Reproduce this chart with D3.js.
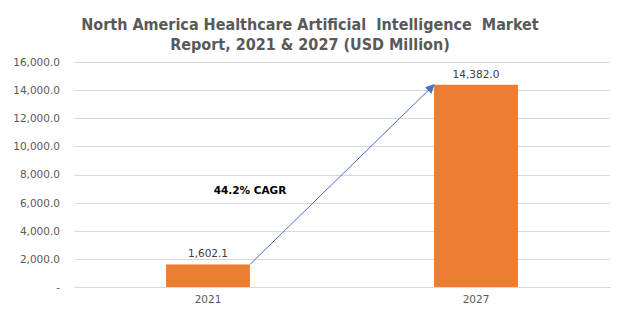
<!DOCTYPE html>
<html><head><meta charset="utf-8">
<script src="https://cdn.jsdelivr.net/npm/d3@7"></script>
<style>body{margin:0;background:#fff;} svg{display:block;}</style>
</head><body>
<script>
const categories = ["2021", "2027"];
const values = [1602.1, 14382.0];
const valueLabels = ["1,602.1", "14,382.0"];
const tickValues = [0, 2000, 4000, 6000, 8000, 10000, 12000, 14000, 16000];
const tickLabels = ["-", "2,000.0", "4,000.0", "6,000.0", "8,000.0", "10,000.0", "12,000.0", "14,000.0", "16,000.0"];
const titleLines = ["North America Healthcare Artificial  Intelligence  Market", "Report, 2021 & 2027 (USD Million)"];
const cagrText = "44.2% CAGR";

(function () {
const W = 624, H = 324;
const pLeft = 74, pRight = 610, pTop = 62, pBottom = 287;

const svg = d3.select("body").append("svg").attr("width", W).attr("height", H);

const x = d3.scaleBand().domain(categories).range([pLeft, pRight]).padding(0);
const y = d3.scaleLinear().domain([0, 16000]).range([pBottom, pTop]);
const barW = x.bandwidth() * 0.313;

// title
svg.append("g").selectAll("text").data(titleLines).join("text")
  .attr("x", 310).attr("y", (d, i) => 30 + i * 20)
  .attr("text-anchor", "middle")
  .attr("font-family", "'DejaVu Sans Condensed', 'DejaVu Sans', sans-serif")
  .attr("font-weight", "bold").attr("font-size", 16)
  .attr("fill", "#595959")
  .style("white-space", "pre")
  .text(d => d);

// grid
const yAxis = d3.axisLeft(y).tickValues(tickValues)
  .tickFormat((d, i) => tickLabels[i]).tickSize(-(pRight - pLeft)).tickPadding(14);
const gy = svg.append("g").attr("transform", `translate(${pLeft},0)`).call(yAxis);
gy.select(".domain").remove();
gy.selectAll(".tick line").attr("stroke", "#d9d9d9").attr("stroke-width", 1).attr("shape-rendering", "crispEdges");
gy.selectAll(".tick text").attr("font-family", "'DejaVu Sans', sans-serif").attr("font-size", 10.5).attr("fill", "#595959");

// x axis
const xAxis = d3.axisBottom(x).tickSize(0).tickPadding(9);
const gx = svg.append("g").attr("transform", `translate(0,${pBottom})`).call(xAxis);
gx.select(".domain").attr("stroke", "#d9d9d9").attr("shape-rendering", "crispEdges");
gx.selectAll(".tick text").attr("font-family", "'DejaVu Sans', sans-serif").attr("font-size", 10.5).attr("fill", "#595959");

// bars
svg.append("g").selectAll("rect").data(values).join("rect")
  .attr("x", (d, i) => x(categories[i]) + x.bandwidth() / 2 - barW / 2)
  .attr("y", d => y(d))
  .attr("width", barW)
  .attr("height", d => y(0) - y(d))
  .attr("fill", "#ed7d31");

// value labels
svg.append("g").selectAll("text").data(values).join("text")
  .attr("x", (d, i) => x(categories[i]) + x.bandwidth() / 2)
  .attr("y", d => y(d) - 7)
  .attr("text-anchor", "middle")
  .attr("font-family", "'DejaVu Sans', sans-serif").attr("font-size", 10.5)
  .attr("fill", "#404040")
  .text((d, i) => valueLabels[i]);

// arrow
const defs = svg.append("defs");
defs.append("marker").attr("id", "ah").attr("viewBox", "0 0 10 10")
  .attr("refX", 9).attr("refY", 5).attr("markerWidth", 9).attr("markerHeight", 9)
  .attr("markerUnits", "userSpaceOnUse")
  .attr("orient", "auto")
  .append("path").attr("d", "M0,0 L10,5 L0,10 z").attr("fill", "#4472c4");
const x0 = x(categories[0]) + x.bandwidth() / 2 + barW / 2;
const x1 = x(categories[1]) + x.bandwidth() / 2 - barW / 2;
svg.append("line")
  .attr("x1", x0).attr("y1", y(values[0]))
  .attr("x2", x1).attr("y2", y(values[1]))
  .attr("stroke", "#4472c4").attr("stroke-width", 1)
  .attr("marker-end", "url(#ah)");

// CAGR
svg.append("text").attr("x", 250).attr("y", 194).attr("text-anchor", "middle")
  .attr("font-family", "'DejaVu Sans', sans-serif").attr("font-weight", "bold")
  .attr("font-size", 10.5).attr("fill", "#000")
  .text(cagrText);
})();
</script>
</body></html>
